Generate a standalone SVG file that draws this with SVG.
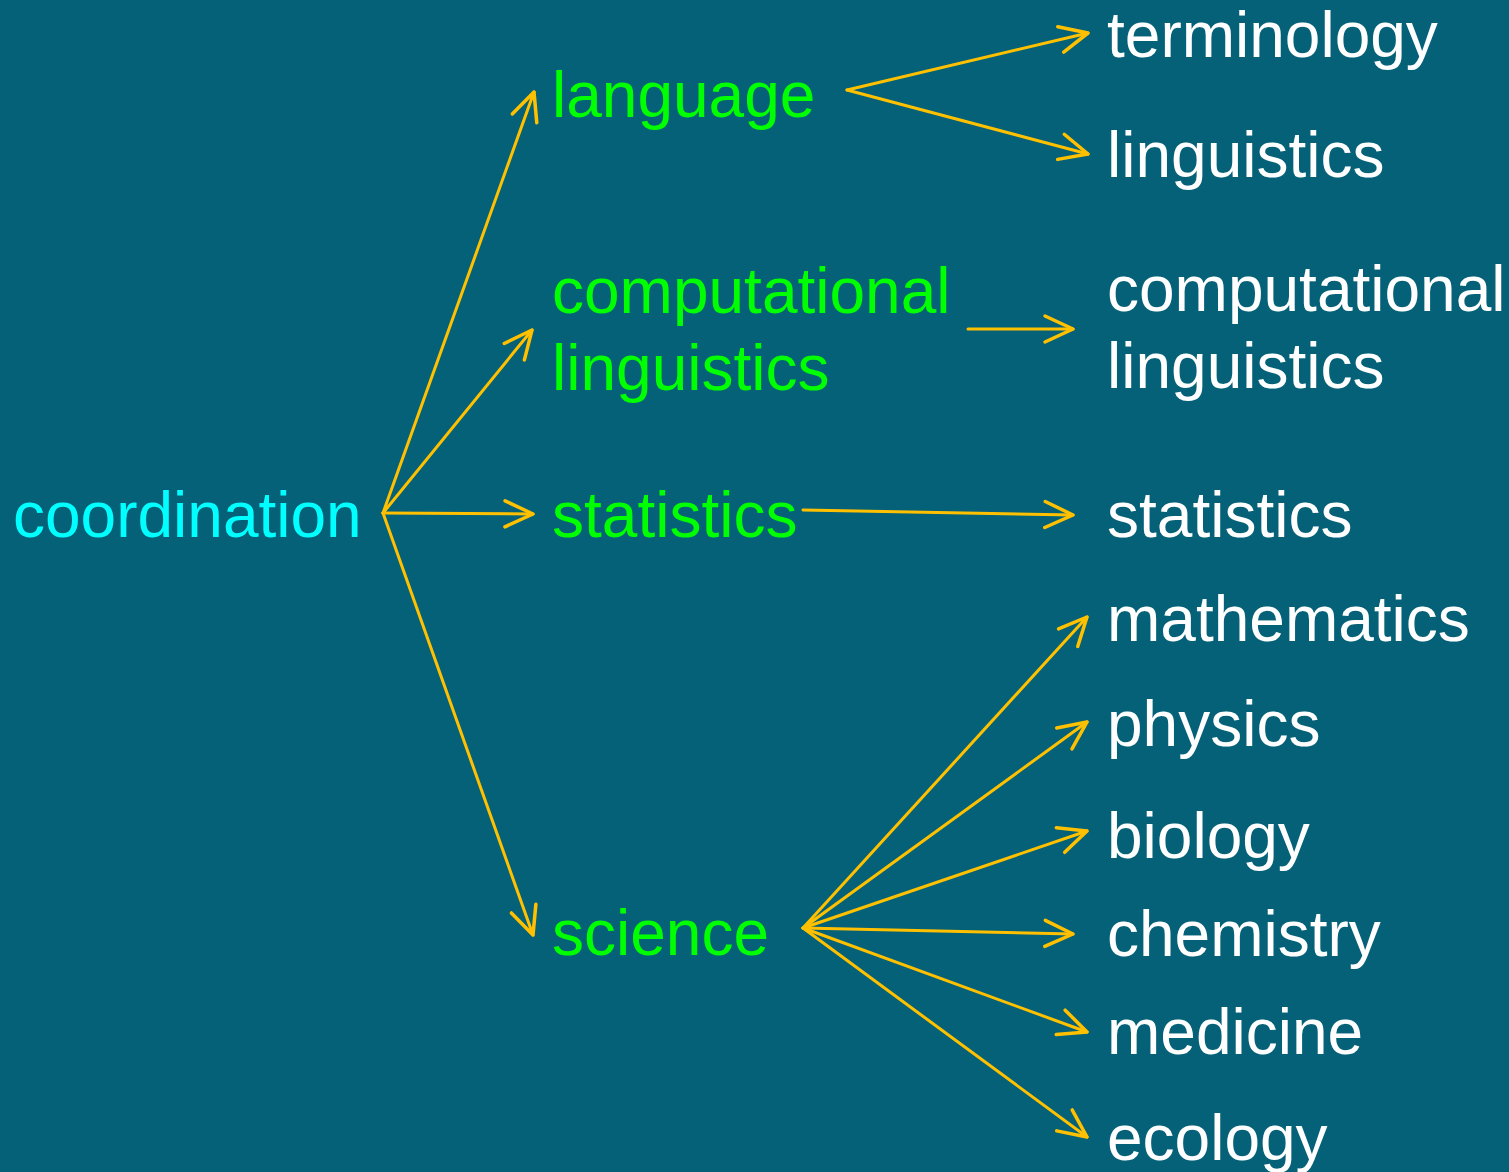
<svg xmlns="http://www.w3.org/2000/svg" width="1509" height="1172" viewBox="0 0 1509 1172">
<style>
text{font-family:"Liberation Sans",Arial,sans-serif;font-size:64px}
.root{fill:#00FFFF}
.mid{fill:#00FF00}
.leaf{fill:#FFFFFF}
.edge{stroke:#FFC000;stroke-width:3;fill:none;stroke-linecap:round;marker-end:url(#arr)}
</style>
<defs>
<marker id="arr" markerUnits="userSpaceOnUse" viewBox="-2 -16 34 32" refX="29" refY="0" markerWidth="34" markerHeight="32" orient="auto">
<path d="M1,-13 L29,0 L1,13" fill="none" stroke="#FFC000" stroke-width="3.5" stroke-linecap="round" stroke-linejoin="round"/>
</marker>
</defs>
<rect x="0" y="0" width="1509" height="1172" fill="#046177"/>
<g id="connectors">
<line class="edge" x1="383" y1="513" x2="534" y2="92"/>
<line class="edge" x1="383" y1="513" x2="532" y2="330"/>
<line class="edge" x1="383" y1="513" x2="533" y2="514"/>
<line class="edge" x1="383" y1="513" x2="533" y2="935"/>
<line class="edge" x1="847" y1="90" x2="1088" y2="33"/>
<line class="edge" x1="847" y1="90" x2="1088" y2="154"/>
<line class="edge" x1="968" y1="329" x2="1073" y2="329"/>
<line class="edge" x1="803" y1="510" x2="1073" y2="515"/>
<line class="edge" x1="803" y1="928" x2="1087" y2="617"/>
<line class="edge" x1="803" y1="928" x2="1087" y2="722"/>
<line class="edge" x1="803" y1="928" x2="1087" y2="831"/>
<line class="edge" x1="803" y1="928" x2="1073" y2="934"/>
<line class="edge" x1="803" y1="928" x2="1087" y2="1032"/>
<line class="edge" x1="803" y1="928" x2="1087" y2="1137"/>
</g>
<g id="n-coordination"><text class="root" x="13" y="537">coordination</text></g>
<g id="n-language"><text class="mid" x="552" y="117">language</text></g>
<g id="n-complingmid"><text class="mid" x="552" y="313">computational</text><text class="mid" x="552" y="390">linguistics</text></g>
<g id="n-statisticsmid"><text class="mid" x="552" y="537">statistics</text></g>
<g id="n-science"><text class="mid" x="552" y="955">science</text></g>
<g id="n-terminology"><text class="leaf" x="1107" y="57">terminology</text></g>
<g id="n-linguistics"><text class="leaf" x="1107" y="177">linguistics</text></g>
<g id="n-compling"><text class="leaf" x="1107" y="311">computational</text><text class="leaf" x="1107" y="388">linguistics</text></g>
<g id="n-statistics"><text class="leaf" x="1107" y="537">statistics</text></g>
<g id="n-mathematics"><text class="leaf" x="1107" y="641">mathematics</text></g>
<g id="n-physics"><text class="leaf" x="1107" y="746">physics</text></g>
<g id="n-biology"><text class="leaf" x="1107" y="858">biology</text></g>
<g id="n-chemistry"><text class="leaf" x="1107" y="956">chemistry</text></g>
<g id="n-medicine"><text class="leaf" x="1107" y="1054">medicine</text></g>
<g id="n-ecology"><text class="leaf" x="1107" y="1160">ecology</text></g>
</svg>
